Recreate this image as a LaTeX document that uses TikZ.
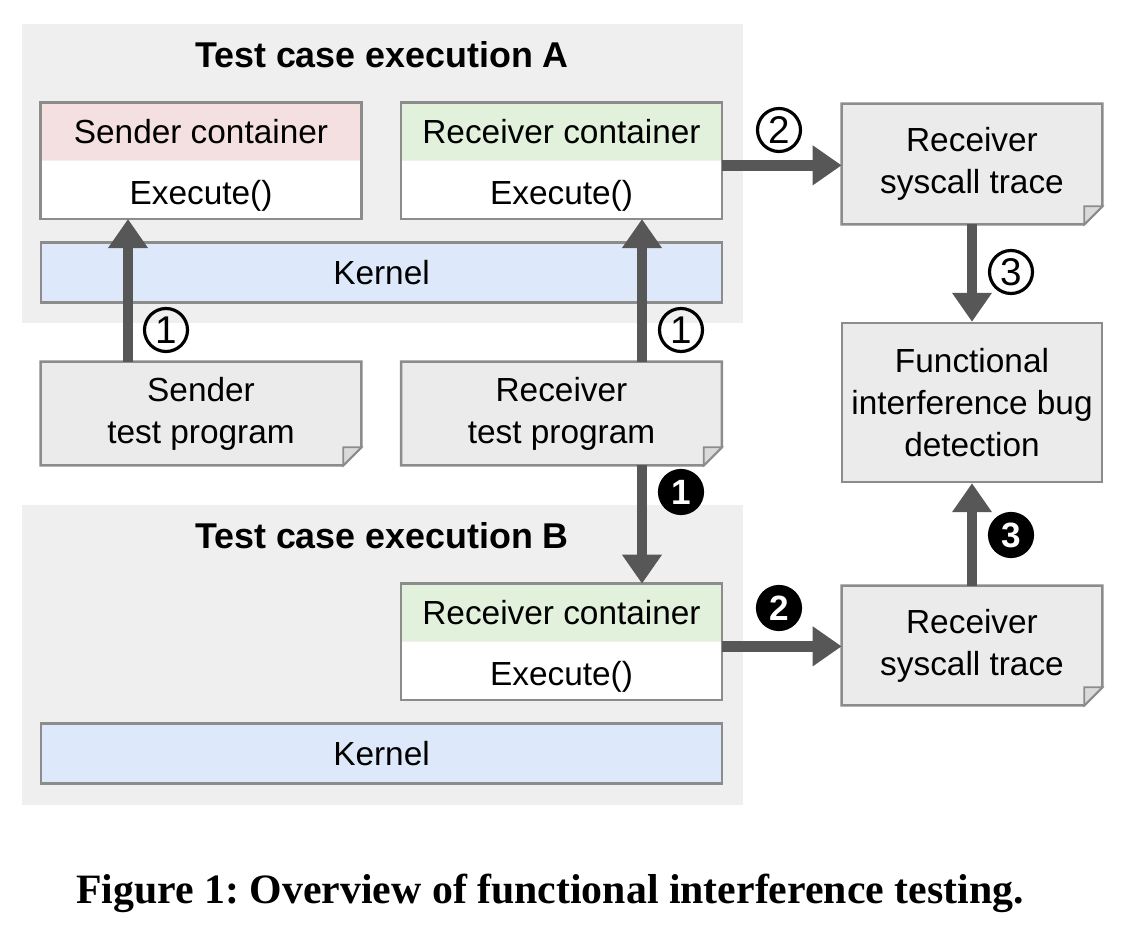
\documentclass[tikz,border=0pt]{standalone}
\usepackage{fontspec}
\setmainfont{Liberation Sans}
\newfontfamily\capfont{Liberation Serif}
\usetikzlibrary{arrows.meta, positioning}
\definecolor{panelfill}{HTML}{EFEFEF}
\definecolor{boxline}{HTML}{8C8C8C}
\definecolor{sndfill}{HTML}{F4E0E0}
\definecolor{rcvfill}{HTML}{E1F1DC}
\definecolor{kernfill}{HTML}{DDE8FB}
\definecolor{docfill}{HTML}{EBEBEB}
\definecolor{foldfill}{HTML}{DADADA}
\definecolor{arrowline}{HTML}{575757}
\tikzset{
  panel/.style  = {rectangle, fill=panelfill, draw=none, inner sep=0pt},
  ttl/.style    = {font=\fontsize{20.4}{24}\selectfont\bfseries},
  hdr/.style    = {rectangle, minimum width=6.4cm, minimum height=1.14cm, inner sep=0pt,
                   font=\fontsize{19}{24}\selectfont},
  exe/.style    = {rectangle, fill=white, minimum width=6.4cm, minimum height=1.16cm, inner sep=0pt,
                   text height=0.74cm, text depth=0.13cm, font=\fontsize{19}{24}\selectfont},
  kern/.style   = {rectangle, draw=boxline, line width=1.4pt, fill=kernfill, minimum width=13.62cm,
                   minimum height=1.2cm, font=\fontsize{19}{24}\selectfont},
  doc/.style    = {rectangle, fill=docfill, minimum width=6.4cm, minimum height=2.06cm, align=center,
                   font=\fontsize{19}{24}\selectfont},
  frame/.style  = {draw=boxline, line width=1.4pt},
  flow/.style   = {-{Triangle[length=0.58cm, width=0.76cm]}, line width=0.21cm, draw=arrowline},
  num/.style    = {circle, draw, line width=1.8pt, minimum size=0.86cm, inner sep=0pt,
                   font=\fontsize{22}{22}\selectfont},
  numfill/.style= {num, fill=black, text=white, font=\fontsize{20}{20}\selectfont\bfseries},
}
\begin{document}
\begin{tikzpicture}[x=0.02cm, y=-0.02cm]
    \useasboundingbox (0,0) rectangle (1130,936);
    \node[panel, minimum width=14.42cm, minimum height=5.98cm] (panelA) at (382.5,173.5) {};
    \node[panel, minimum width=14.42cm, minimum height=6cm]    (panelB) at (382.5,655) {};
    \node[ttl] (ttlA) at (382,55)  {Test case execution A};
    \node[ttl] (ttlB) at (382,536) {Test case execution B};

    \node[hdr, fill=sndfill] (sndhdr) at (201,131.5) {Sender container};
    \node[exe, below=0pt of sndhdr] (sndexe) {Execute()};
    \node[hdr, fill=rcvfill] (rcvhdr) at (561.5,131.5) {Receiver container};
    \node[exe, below=0pt of rcvhdr] (rcvexe) {Execute()};
    \node[hdr, fill=rcvfill] (rcvBhdr) at (561.5,612.5) {Receiver container};
    \node[exe, below=0pt of rcvBhdr] (rcvBexe) {Execute()};
    \foreach \a/\b in {sndhdr/sndexe, rcvhdr/rcvexe, rcvBhdr/rcvBexe}{\draw[frame] (\a.north west) rectangle (\b.south east);}

    \node[kern] (kernA) at (381.5,272.5) {Kernel};
    \node[kern] (kernB) at (381.5,753.5) {Kernel};

    \node[doc] (sndprog) at (201,413.5)   {Sender\\test program};
    \node[doc] (rcvprog) at (561.5,413.5) {Receiver\\test program};
    \node[doc, minimum width=5.2cm, minimum height=2.4cm]  (traceA) at (972,164)   {Receiver\\syscall trace};
    \node[doc, minimum width=5.2cm, minimum height=2.38cm] (traceB) at (972,645.5) {Receiver\\syscall trace};
    \node[doc, frame, minimum width=5.2cm, minimum height=3.18cm] (detect) at (972,402.5) {Functional\\interference bug\\detection};
    \foreach \n in {sndprog, rcvprog, traceA, traceB}{
        \fill[white] ([xshift=-0.36cm]\n.south east) -- (\n.south east) -- ([yshift=0.36cm]\n.south east) -- cycle;
        \draw[frame] (\n.north west) -- (\n.north east) -- ([yshift=0.36cm]\n.south east)
            -- ([xshift=-0.36cm]\n.south east) -- (\n.south west) -- cycle;
        \draw[frame, fill=foldfill, line width=1pt] ([xshift=-0.36cm]\n.south east) -- ([xshift=-0.36cm, yshift=0.36cm]\n.south east)
            -- ([yshift=0.36cm]\n.south east) -- cycle;
    }

    \draw[flow] ([xshift=-1.46cm]sndprog.north) -- ([xshift=-1.46cm]sndexe.south);
    \draw[flow] ([xshift=1.61cm]rcvprog.north) -- ([xshift=1.61cm]rcvexe.south);
    \draw[flow] ([xshift=1.61cm]rcvprog.south) -- ([xshift=1.61cm]rcvBhdr.north);
    \draw[flow] ([yshift=-0.1cm]rcvexe.north east) -- ([yshift=-0.1cm]rcvexe.north east -| traceA.west);
    \draw[flow] ([yshift=-0.1cm]rcvBexe.north east) -- ([yshift=-0.1cm]rcvBexe.north east -| traceB.west);
    \foreach \a/\b in {traceA/detect, traceB/detect}{\draw[flow] (\a) -- (\b);}

    \node[num] (one1) at (166,330) {1};
    \node[num] (one2) at (681,330) {1};
    \node[num] (two)  at (779,130) {2};
    \node[num] (three) at (1011,272) {3};
    \node[numfill] (oneB)   at (681,492)  {1};
    \node[numfill] (twoB)   at (779,608)  {2};
    \node[numfill] (threeB) at (1011,535) {3};

    \node[font=\capfont\fontsize{23.8}{28}\selectfont\bfseries] (caption) at (550,893) {\frenchspacing Figure 1: Overview of functional interference testing.};
\end{tikzpicture}
\end{document}
